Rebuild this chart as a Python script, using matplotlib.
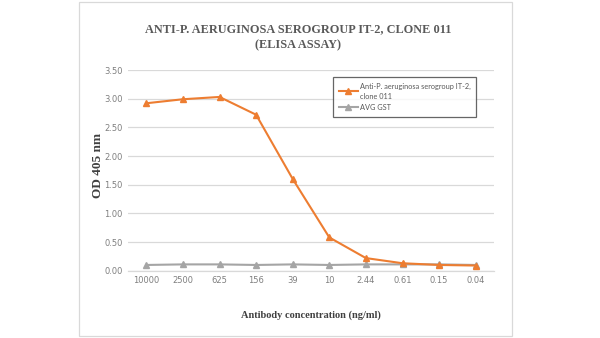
import matplotlib
matplotlib.use("Agg")
import matplotlib.pyplot as plt
from matplotlib.patches import Rectangle
from matplotlib.lines import Line2D

concentrations = ["10000", "2500", "625", "156", "39", "10", "2.44", "0.61", "0.15", "0.04"]
antibody_od = [2.92, 2.99, 3.03, 2.72, 1.60, 0.58, 0.22, 0.13, 0.10, 0.09]
gst_od = [0.10, 0.11, 0.11, 0.10, 0.11, 0.10, 0.11, 0.11, 0.11, 0.10]
y_ticks = [0.0, 0.5, 1.0, 1.5, 2.0, 2.5, 3.0, 3.5]

title = "ANTI-P. AERUGINOSA SEROGROUP IT-2, CLONE 011\n(ELISA ASSAY)"
series_labels = ["Anti-P. aeruginosa serogroup IT-2,\nclone 011", "AVG GST"]

orange = "#ED7D31"
grey = "#A5A5A5"
text_grey = "#595959"
tick_grey = "#7F7F7F"
grid_grey = "#D9D9D9"

fig = plt.figure(figsize=(6.0, 3.38), dpi=100)
fig.patch.set_facecolor("white")

# chart frame
fig.add_artist(Rectangle((79 / 600, 2 / 338), (512 - 79) / 600, (336 - 2) / 338,
                         transform=fig.transFigure, fill=False,
                         edgecolor=grid_grey, linewidth=0.9))

ax = fig.add_axes([128 / 600, 1 - 270.7 / 338, (494 - 128) / 600, (270.7 - 70) / 338])
x = list(range(len(concentrations)))

ax.plot(x, antibody_od, color=orange, linewidth=1.5, marker="^", markersize=4.5,
        markerfacecolor=orange, markeredgecolor=orange, label=series_labels[0], zorder=3)
ax.plot(x, gst_od, color=grey, linewidth=1.5, marker="^", markersize=4.5,
        markerfacecolor=grey, markeredgecolor=grey, label=series_labels[1], zorder=2)

ax.set_xlim(-0.5, len(concentrations) - 0.5)
ax.set_ylim(0, 3.5)
ax.set_yticks(y_ticks)
ax.set_yticklabels([f"{v:.2f}" for v in y_ticks])
ax.set_xticks(x)
ax.set_xticklabels(concentrations)

for s in ["top", "right", "left"]:
    ax.spines[s].set_visible(False)
ax.spines["bottom"].set_color(grid_grey)
ax.spines["bottom"].set_linewidth(0.9)
ax.grid(axis="y", color=grid_grey, linewidth=0.9)
ax.set_axisbelow(True)
ax.tick_params(axis="both", length=0, labelcolor=tick_grey, labelsize=6)
ax.tick_params(axis="x", pad=4)
ax.tick_params(axis="y", pad=4)
for lab in ax.get_xticklabels() + ax.get_yticklabels():
    lab.set_family("DejaVu Sans")
    lab.set_fontsize(6)

ax.set_ylabel("OD 405 nm", family="Liberation Serif", fontweight="bold",
              fontsize=9.5, color="#404040")
ax.yaxis.set_label_coords((104 - 128) / 366, (270.7 - 165) / 200.7)
ax.set_xlabel("Antibody concentration (ng/ml)", family="Liberation Serif",
              fontweight="bold", fontsize=7.5, color="#404040", labelpad=18)

fig.text(0.497, 1 - 37 / 338, title, ha="center", va="center",
         family="Liberation Serif", fontweight="bold", fontsize=8.8,
         color=text_grey, linespacing=1.5)

handles = [Line2D([0], [0], color=orange, linewidth=1.5, marker="^", markersize=4),
           Line2D([0], [0], color=grey, linewidth=1.5, marker="^", markersize=4)]
leg = ax.legend(handles, series_labels, loc="upper left",
                bbox_to_anchor=((333 - 128) / 366, (270.7 - 77) / 200.7),
                frameon=True, fancybox=False,
                prop={"family": "Lato", "size": 5.3},
                handlelength=2.6, handletextpad=0.3, borderpad=0.75,
                labelspacing=0.6, borderaxespad=0)
leg.get_frame().set_edgecolor("#404040")
leg.get_frame().set_linewidth(0.9)
for t in leg.get_texts():
    t.set_color(text_grey)
    t.set_linespacing(1.5)

fig.savefig("out.png", dpi=100, facecolor="white")
